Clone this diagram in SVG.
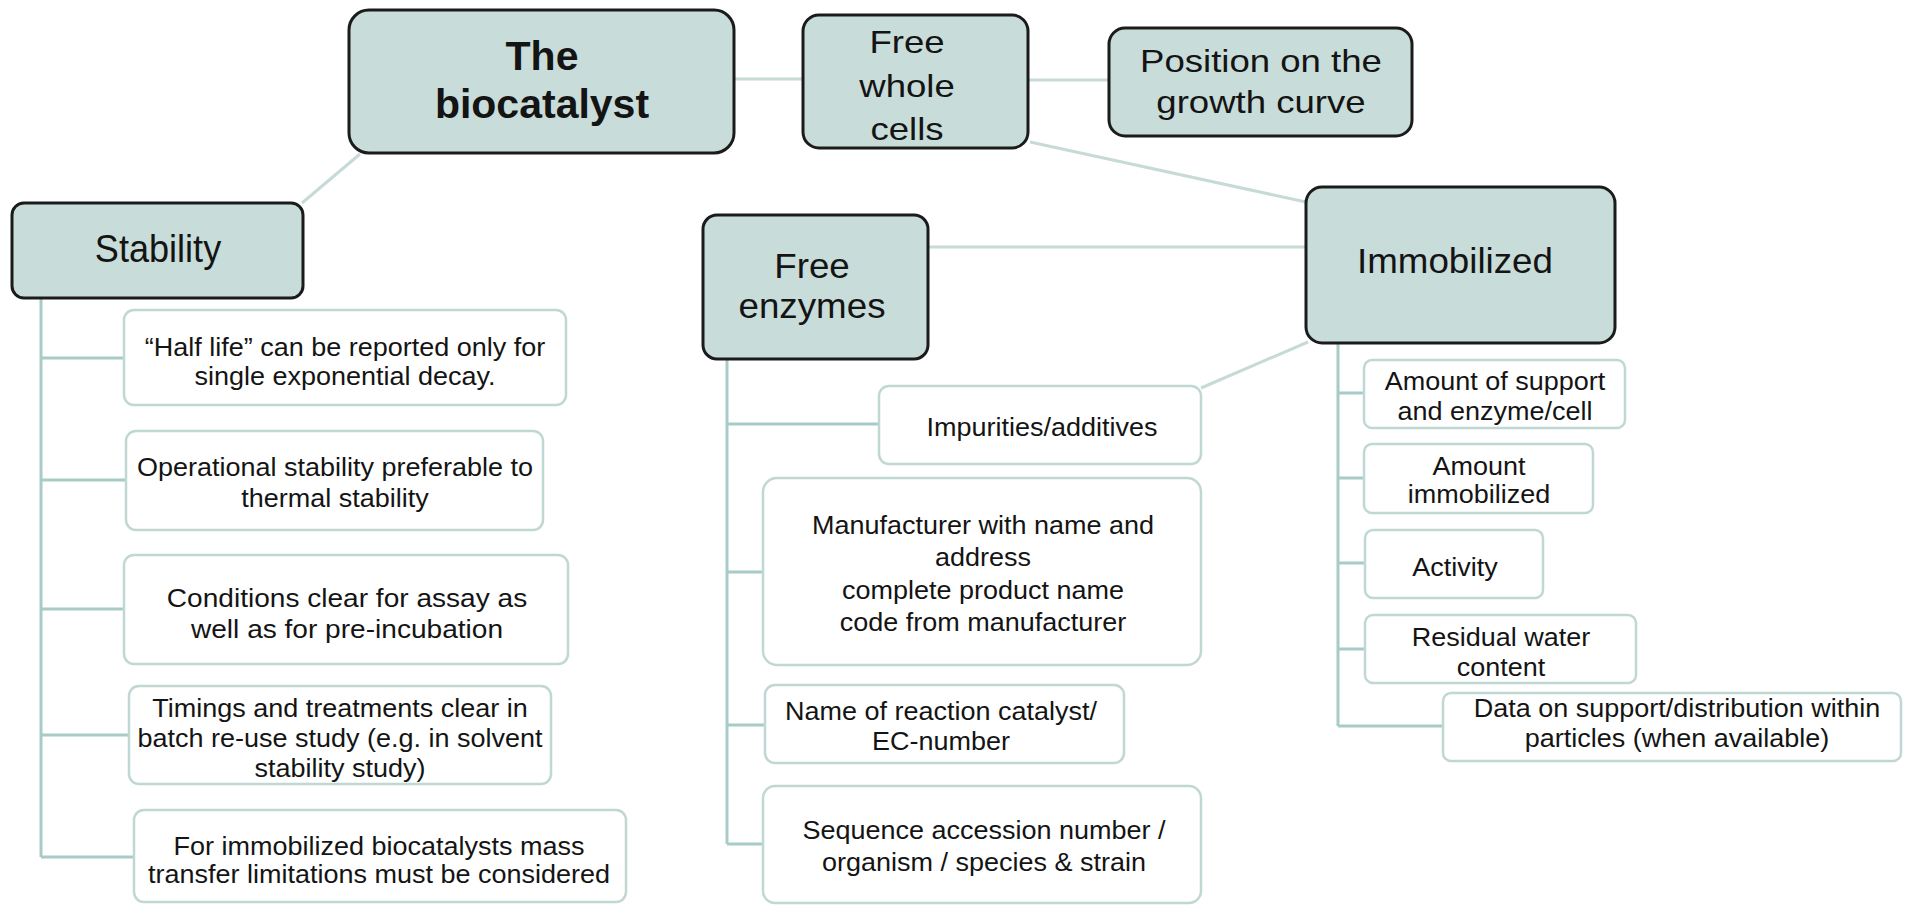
<svg xmlns="http://www.w3.org/2000/svg" width="1905" height="906" viewBox="0 0 1905 906">
  <style>
    text { font-family: "Liberation Sans", Arial, sans-serif; fill: #141414; text-anchor: middle; transform-box: fill-box; transform-origin: center; }
    .node rect { fill: #c8dcd9; stroke: #1b1b1b; stroke-width: 3; }
    .leaf rect { fill: #ffffff; stroke: #c0d8d4; stroke-width: 2.5; }
    .leaf text { font-size: 25px; transform: scaleX(1.08); }
    .title { font-size: 41px; font-weight: bold; }
    .mid { font-size: 31px; transform: scaleX(1.18); }
    .big { font-size: 35px; transform: scaleX(1.05); }
    .stab { font-size: 38px; transform: scaleX(0.95); }
    .links line, .links path { fill: none; stroke-width: 3; }
    .soft { stroke: #c6dad8; }
    .tree { stroke: #a8cbc5; }
  </style>

  <!-- connectors -->
  <g class="links">
    <line class="soft" x1="734" y1="79" x2="803" y2="79"/>
    <line class="soft" x1="1028" y1="80" x2="1109" y2="80"/>
    <line class="soft" x1="1030" y1="142" x2="1306" y2="202"/>
    <line class="soft" x1="360" y1="154" x2="302" y2="203"/>
    <line class="soft" x1="928" y1="247" x2="1306" y2="247"/>
    <line class="soft" x1="1201" y1="388" x2="1308" y2="342"/>
    <!-- Stability branch -->
    <path class="tree" d="M41 298 V857 M41 358 H124 M41 480 H126 M41 609 H124 M41 735 H129 M41 857 H134"/>
    <!-- Free enzymes branch -->
    <path class="tree" d="M727 359 V844 M727 424 H879 M727 572 H763 M727 725 H765 M727 844 H763"/>
    <!-- Immobilized branch -->
    <path class="tree" d="M1338 343 V726 M1338 393 H1364 M1338 478 H1364 M1338 563 H1365 M1338 649 H1365 M1338 726 H1443"/>
  </g>

  <!-- main nodes -->
  <g id="biocatalyst" class="node">
    <rect x="349" y="10" width="385" height="143" rx="20"/>
    <text class="title"><tspan x="542" y="70">The</tspan><tspan x="542" y="118">biocatalyst</tspan></text>
  </g>
  <g id="free-whole-cells" class="node">
    <rect x="803" y="15" width="225" height="133" rx="16"/>
    <text class="mid"><tspan x="907" y="53">Free</tspan><tspan x="907" y="97">whole</tspan><tspan x="907" y="140">cells</tspan></text>
  </g>
  <g id="growth-curve" class="node">
    <rect x="1109" y="28" width="303" height="108" rx="16"/>
    <text class="mid"><tspan x="1261" y="72">Position on the</tspan><tspan x="1261" y="113">growth curve</tspan></text>
  </g>
  <g id="stability" class="node">
    <rect x="12" y="203" width="291" height="95" rx="12"/>
    <text class="stab" x="158" y="262">Stability</text>
  </g>
  <g id="free-enzymes" class="node">
    <rect x="703" y="215" width="225" height="144" rx="14"/>
    <text class="big"><tspan x="812" y="278">Free</tspan><tspan x="812" y="318">enzymes</tspan></text>
  </g>
  <g id="immobilized" class="node">
    <rect x="1306" y="187" width="309" height="156" rx="16"/>
    <text class="big" x="1455" y="273">Immobilized</text>
  </g>

  <!-- stability items -->
  <g id="half-life" class="leaf">
    <rect x="124" y="310" width="442" height="95" rx="10"/>
    <text><tspan x="345" y="356">“Half life” can be reported only for</tspan><tspan x="345" y="385">single exponential decay.</tspan></text>
  </g>
  <g id="operational" class="leaf">
    <rect x="126" y="431" width="417" height="99" rx="10"/>
    <text><tspan x="335" y="476">Operational stability preferable to</tspan><tspan x="335" y="507">thermal stability</tspan></text>
  </g>
  <g id="conditions" class="leaf">
    <rect x="124" y="555" width="444" height="109" rx="10"/>
    <text style="font-size:26px"><tspan x="347" y="607">Conditions clear for assay as</tspan><tspan x="347" y="638">well as for pre-incubation</tspan></text>
  </g>
  <g id="timings" class="leaf">
    <rect x="129" y="686" width="422" height="98" rx="10"/>
    <text><tspan x="340" y="717">Timings and treatments clear in</tspan><tspan x="340" y="747">batch re-use study (e.g. in solvent</tspan><tspan x="340" y="777">stability study)</tspan></text>
  </g>
  <g id="mass-transfer" class="leaf">
    <rect x="134" y="810" width="492" height="92" rx="10"/>
    <text><tspan x="379" y="855">For immobilized biocatalysts mass</tspan><tspan x="379" y="883">transfer limitations must be considered</tspan></text>
  </g>

  <!-- free enzyme items -->
  <g id="impurities" class="leaf">
    <rect x="879" y="386" width="322" height="78" rx="10"/>
    <text x="1042" y="436">Impurities/additives</text>
  </g>
  <g id="manufacturer" class="leaf">
    <rect x="763" y="478" width="438" height="187" rx="14"/>
    <text><tspan x="983" y="534">Manufacturer with name and</tspan><tspan x="983" y="566">address</tspan><tspan x="983" y="599">complete product name</tspan><tspan x="983" y="631">code from manufacturer</tspan></text>
  </g>
  <g id="reaction" class="leaf">
    <rect x="765" y="685" width="359" height="78" rx="10"/>
    <text><tspan x="941" y="720">Name of reaction catalyst/</tspan><tspan x="941" y="750">EC-number</tspan></text>
  </g>
  <g id="sequence" class="leaf">
    <rect x="763" y="786" width="438" height="117" rx="12"/>
    <text><tspan x="984" y="839">Sequence accession number /</tspan><tspan x="984" y="871">organism / species &amp; strain</tspan></text>
  </g>

  <!-- immobilized items -->
  <g id="support-amount" class="leaf">
    <rect x="1364" y="360" width="261" height="68" rx="8"/>
    <text><tspan x="1495" y="390">Amount of support</tspan><tspan x="1495" y="420">and enzyme/cell</tspan></text>
  </g>
  <g id="amount-immobilized" class="leaf">
    <rect x="1364" y="444" width="229" height="69" rx="8"/>
    <text><tspan x="1479" y="475">Amount</tspan><tspan x="1479" y="503">immobilized</tspan></text>
  </g>
  <g id="activity" class="leaf">
    <rect x="1365" y="530" width="178" height="68" rx="8"/>
    <text x="1455" y="576">Activity</text>
  </g>
  <g id="water" class="leaf">
    <rect x="1365" y="615" width="271" height="68" rx="8"/>
    <text><tspan x="1501" y="646">Residual water</tspan><tspan x="1501" y="676">content</tspan></text>
  </g>
  <g id="distribution" class="leaf">
    <rect x="1443" y="693" width="458" height="68" rx="8"/>
    <text><tspan x="1677" y="717">Data on support/distribution within</tspan><tspan x="1677" y="747">particles (when available)</tspan></text>
  </g>
</svg>
